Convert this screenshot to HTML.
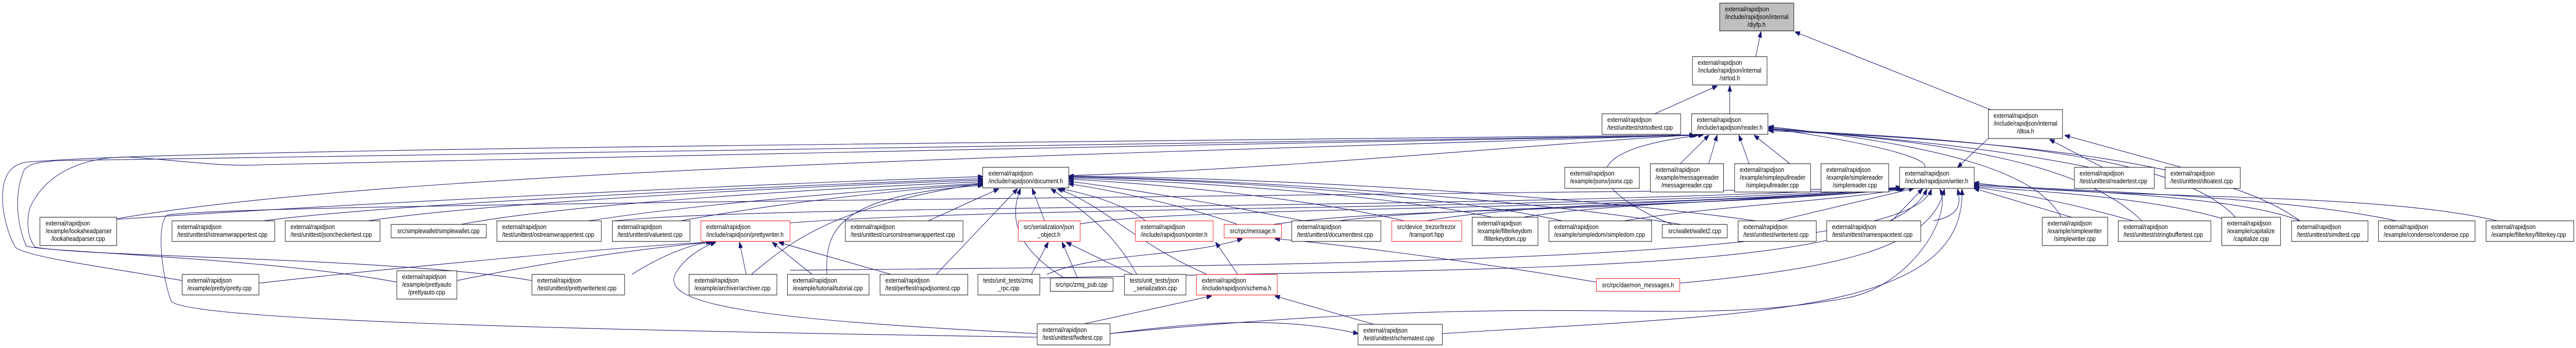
<!DOCTYPE html>
<html><head><meta charset="utf-8"><meta name="viewport" content="width=5869"><style>
html,body{margin:0;padding:0;background:#fff;overflow:hidden;width:100%;height:100%;}
svg{display:block;width:100vw;height:100vh;}
text{font-family:"Liberation Sans",Arial,sans-serif;font-size:12.8px;fill:#000;}
.e{fill:none;stroke:#191970;stroke-width:1.1;}
.n{fill:#fff;stroke:#000;stroke-width:1;}
.r{fill:#fff;stroke:#ff0000;stroke-width:1;}
</style></head><body>
<svg viewBox="0 0 5869 676" preserveAspectRatio="none" xmlns="http://www.w3.org/2000/svg">
<defs><marker id="a" markerWidth="12" markerHeight="9" refX="11" refY="4.5" orient="auto" markerUnits="userSpaceOnUse"><path d="M0,0 L12,4.5 L0,9 z" fill="#191970" stroke="#191970"/></marker></defs>
<g class="e" marker-end="url(#a)">
<path d="M4000,110 L4012,62"/>
<path d="M4535,213 L4090,62"/>
<path d="M3770,221 L3912,167"/>
<path d="M3941,221 L3941,167"/>
<path d="M3820,325 L3893,263"/>
<path d="M3893,318 L3912,263"/>
<path d="M3985,318 L3962,263"/>
<path d="M4078,318 L3997,263"/>
<path d="M4385,325 C4400,300 4150,262 4030,250"/>
<path d="M4760,325 C4500,280 4200,262 4030,248"/>
<path d="M4700,429 C4650,330 4400,280 4030,246"/>
<path d="M4880,429 C4750,320 4450,275 4030,250"/>
<path d="M5100,429 C4980,300 4500,270 4030,252"/>
<path d="M5240,429 C5050,310 4550,272 4030,254"/>
<path d="M2434,341 C2900,330 3500,280 3860,262"/>
<path d="M3810,436 C3700,400 3500,300 3880,262"/>
<path d="M266,425 C900,330 2500,300 3870,262"/>
<path d="M415,545 C250,520 60,500 35,480 C15,450 0,400 8,360 C15,330 35,318 60,315 C400,290 2000,280 3860,262"/>
<path d="M904,548 C600,500 100,490 60,478 C40,440 30,380 55,330 C70,316 90,315 130,312 C600,300 2000,290 3862,263"/>
<path d="M1212,545 C900,500 200,500 80,480 C60,460 60,420 70,400 C110,330 200,305 290,305 C400,310 500,325 600,320 C1400,300 3000,280 3865,263"/>
<path d="M266,426 C900,390 1800,355 2239,343"/>
<path d="M600,429 C900,395 1800,360 2239,347"/>
<path d="M838,429 C1100,395 1800,362 2239,350"/>
<path d="M1050,436 C1300,395 1900,365 2239,353"/>
<path d="M1340,429 C1600,395 2000,368 2239,356"/>
<path d="M1550,429 C1800,390 2100,365 2239,358"/>
<path d="M2115,429 L2275,367"/>
<path d="M2380,429 L2352,367"/>
<path d="M2610,429 C2560,395 2460,372 2415,367"/>
<path d="M2820,436 C2700,400 2550,372 2435,357"/>
<path d="M2970,429 C2800,400 2600,370 2435,352"/>
<path d="M3200,429 C3000,390 2700,360 2435,348"/>
<path d="M3400,422 C3200,385 2800,355 2435,346"/>
<path d="M3560,429 C3300,380 2800,350 2435,344"/>
<path d="M3830,436 C3500,390 2900,350 2435,343"/>
<path d="M4000,429 C3600,380 2900,345 2435,342"/>
<path d="M1712,533 C1800,470 1900,400 2239,356"/>
<path d="M1884,533 C1880,450 1900,380 2239,360"/>
<path d="M2133,533 L2318,367"/>
<path d="M2425,540 C2310,480 2300,420 2325,367"/>
<path d="M2590,533 C2530,440 2450,400 2395,367"/>
<path d="M2750,533 C2580,470 2520,400 2410,367"/>
<path d="M1800,433 C2300,400 3500,410 4330,366"/>
<path d="M2461,435 C2700,400 3700,410 4332,366"/>
<path d="M3050,429 C3300,400 4000,400 4334,366"/>
<path d="M3250,429 C3500,390 4100,390 4336,366"/>
<path d="M3470,422 C3700,390 4100,390 4338,366"/>
<path d="M3700,429 C3900,400 4200,390 4340,366"/>
<path d="M4050,429 L4360,366"/>
<path d="M4310,429 L4380,367"/>
<path d="M1400,429 C1800,395 3300,410 4330,364"/>
<path d="M2900,436 C3200,400 3600,420 4332,364"/>
<path d="M4720,422 L4498,366"/>
<path d="M4860,429 C4700,390 4560,370 4498,364"/>
<path d="M5080,429 C4900,380 4600,370 4498,362"/>
<path d="M5240,429 C5100,380 4700,370 4498,360"/>
<path d="M5460,429 C5200,380 4700,370 4498,358"/>
<path d="M5690,429 C5400,370 4800,390 4498,355"/>
<path d="M3827,550 C4200,520 4400,480 4430,368"/>
<path d="M2369,540 C3500,520 4300,530 4390,368"/>
<path d="M1800,525 C3000,515 4350,510 4400,368"/>
<path d="M3286,648 C4000,610 4480,610 4470,368"/>
<path d="M2529,648 C3600,560 3800,640 4200,580 C4350,560 4450,420 4420,368"/>
<path d="M4405,429 C4460,420 4470,400 4460,368"/>
<path d="M4530,269 L4460,325"/>
<path d="M4790,325 L4670,271"/>
<path d="M4970,325 L4705,263"/>
<path d="M590,550 C900,520 1400,480 1625,470"/>
<path d="M1041,545 C1300,500 1500,480 1620,470"/>
<path d="M1440,533 C1500,500 1580,470 1630,470"/>
<path d="M1700,533 L1685,471"/>
<path d="M1850,533 L1760,471"/>
<path d="M2030,533 L1775,471"/>
<path d="M2363,648 C1700,620 1500,590 1540,530 C1560,500 1600,480 1630,471"/>
<path d="M2350,533 L2388,471"/>
<path d="M2455,540 L2420,471"/>
<path d="M2580,533 L2430,471"/>
<path d="M2385,533 C2500,490 2700,500 2830,464"/>
<path d="M3637,548 C3300,500 3000,470 2905,464"/>
<path d="M2820,533 L2770,471"/>
<path d="M2470,629 L2760,575"/>
<path d="M3130,630 L2905,575"/>
<path d="M2529,648 C2700,630 2900,610 3094,648"/>
<path d="M2363,655 C1200,640 420,620 390,585 C370,540 355,440 380,418 C500,400 1800,390 4330,366"/>
</g>
<g>
<rect class="n" x="91" y="422" width="175" height="55"/><text x="104" y="438">external/rapidjson</text><text x="104" y="453">/example/lookaheadparser</text><text x="178" y="468" text-anchor="middle">/lookaheadparser.cpp</text>
<rect class="n" x="392" y="429" width="234" height="40"/><text x="404" y="445">external/rapidjson</text><text x="404" y="460">/test/unittest/istreamwrappertest.cpp</text>
<rect class="n" x="650" y="429" width="216" height="40"/><text x="662" y="445">external/rapidjson</text><text x="662" y="460">/test/unittest/jsoncheckertest.cpp</text>
<rect class="n" x="891" y="436" width="217" height="26"/><text x="999" y="453" text-anchor="middle">src/simplewallet/simplewallet.cpp</text>
<rect class="n" x="1132" y="429" width="238" height="40"/><text x="1144" y="445">external/rapidjson</text><text x="1144" y="460">/test/unittest/ostreamwrappertest.cpp</text>
<rect class="n" x="1395" y="429" width="177" height="40"/><text x="1407" y="445">external/rapidjson</text><text x="1407" y="460">/test/unittest/valuetest.cpp</text>
<rect class="n" x="415" y="533" width="175" height="40"/><text x="427" y="549">external/rapidjson</text><text x="427" y="564">/example/pretty/pretty.cpp</text>
<rect class="n" x="904" y="526" width="137" height="55"/><text x="916" y="542">external/rapidjson</text><text x="916" y="557">/example/prettyauto</text><text x="972" y="572" text-anchor="middle">/prettyauto.cpp</text>
<rect class="n" x="1212" y="533" width="211" height="40"/><text x="1224" y="549">external/rapidjson</text><text x="1224" y="564">/test/unittest/prettywritertest.cpp</text>
<rect class="n" x="2239" y="325" width="196" height="40"/><text x="2252" y="341">external/rapidjson</text><text x="2252" y="356">/include/rapidjson/document.h</text>
<rect class="r" x="1597" y="429" width="203" height="40"/><text x="1609" y="445">external/rapidjson</text><text x="1609" y="460">/include/rapidjson/prettywriter.h</text>
<rect class="n" x="1926" y="429" width="268" height="40"/><text x="1938" y="445">external/rapidjson</text><text x="1938" y="460">/test/unittest/cursorstreamwrappertest.cpp</text>
<rect class="r" x="2320" y="429" width="141" height="40"/><text x="2332" y="445">src/serialization/json</text><text x="2390" y="460" text-anchor="middle">_object.h</text>
<rect class="r" x="2587" y="429" width="177" height="40"/><text x="2599" y="445">external/rapidjson</text><text x="2599" y="460">/include/rapidjson/pointer.h</text>
<rect class="r" x="2789" y="436" width="131" height="26"/><text x="2854" y="453" text-anchor="middle">src/rpc/message.h</text>
<rect class="n" x="2943" y="429" width="203" height="40"/><text x="2955" y="445">external/rapidjson</text><text x="2955" y="460">/test/unittest/documenttest.cpp</text>
<rect class="n" x="1570" y="533" width="200" height="40"/><text x="1582" y="549">external/rapidjson</text><text x="1582" y="564">/example/archiver/archiver.cpp</text>
<rect class="n" x="1794" y="533" width="186" height="40"/><text x="1806" y="549">external/rapidjson</text><text x="1806" y="564">/example/tutorial/tutorial.cpp</text>
<rect class="n" x="2005" y="533" width="200" height="40"/><text x="2017" y="549">external/rapidjson</text><text x="2017" y="564">/test/perftest/rapidjsontest.cpp</text>
<rect class="n" x="2228" y="533" width="141" height="40"/><text x="2240" y="549">tests/unit_tests/zmq</text><text x="2298" y="564" text-anchor="middle">_rpc.cpp</text>
<rect class="n" x="2393" y="540" width="143" height="26"/><text x="2464" y="557" text-anchor="middle">src/rpc/zmq_pub.cpp</text>
<rect class="n" x="2562" y="533" width="140" height="40"/><text x="2574" y="549">tests/unit_tests/json</text><text x="2632" y="564" text-anchor="middle">_serialization.cpp</text>
<rect class="r" x="2726" y="533" width="184" height="40"/><text x="2738" y="549">external/rapidjson</text><text x="2738" y="564">/include/rapidjson/schema.h</text>
<rect class="n" x="2363" y="629" width="166" height="41"/><text x="2375" y="645">external/rapidjson</text><text x="2375" y="660">/test/unittest/fwdtest.cpp</text>
<rect x="3918" y="6" width="169" height="54" fill="#bfbfbf" stroke="#000"/><text x="3930" y="22">external/rapidjson</text><text x="3930" y="37">/include/rapidjson/internal</text><text x="4002" y="52" text-anchor="middle">/diyfp.h</text>
<rect class="n" x="3856" y="110" width="170" height="55"/><text x="3868" y="126">external/rapidjson</text><text x="3868" y="141">/include/rapidjson/internal</text><text x="3941" y="156" text-anchor="middle">/strtod.h</text>
<rect class="n" x="3650" y="221" width="179" height="40"/><text x="3662" y="237">external/rapidjson</text><text x="3662" y="252">/test/unittest/strtodtest.cpp</text>
<rect class="n" x="3854" y="221" width="174" height="40"/><text x="3866" y="237">external/rapidjson</text><text x="3866" y="252">/include/rapidjson/reader.h</text>
<rect class="n" x="3565" y="325" width="170" height="41"/><text x="3577" y="341">external/rapidjson</text><text x="3577" y="356">/example/jsonx/jsonx.cpp</text>
<rect class="n" x="3760" y="318" width="167" height="55"/><text x="3772" y="334">external/rapidjson</text><text x="3772" y="349">/example/messagereader</text><text x="3843" y="364" text-anchor="middle">/messagereader.cpp</text>
<rect class="n" x="3952" y="318" width="173" height="55"/><text x="3964" y="334">external/rapidjson</text><text x="3964" y="349">/example/simplepullreader</text><text x="4038" y="364" text-anchor="middle">/simplepullreader.cpp</text>
<rect class="n" x="4149" y="318" width="154" height="55"/><text x="4161" y="334">external/rapidjson</text><text x="4161" y="349">/example/simplereader</text><text x="4226" y="364" text-anchor="middle">/simplereader.cpp</text>
<rect class="n" x="4328" y="325" width="170" height="41"/><text x="4340" y="341">external/rapidjson</text><text x="4340" y="356">/include/rapidjson/writer.h</text>
<rect class="r" x="3171" y="429" width="159" height="40"/><text x="3183" y="445">src/device_trezor/trezor</text><text x="3250" y="460" text-anchor="middle">/transport.hpp</text>
<rect class="n" x="3354" y="422" width="150" height="55"/><text x="3366" y="438">external/rapidjson</text><text x="3366" y="453">/example/filterkeydom</text><text x="3429" y="468" text-anchor="middle">/filterkeydom.cpp</text>
<rect class="n" x="3529" y="429" width="234" height="40"/><text x="3541" y="445">external/rapidjson</text><text x="3541" y="460">/example/simpledom/simpledom.cpp</text>
<rect class="n" x="3787" y="436" width="148" height="26"/><text x="3861" y="453" text-anchor="middle">src/wallet/wallet2.cpp</text>
<rect class="n" x="3960" y="429" width="178" height="40"/><text x="3972" y="445">external/rapidjson</text><text x="3972" y="460">/test/unittest/writertest.cpp</text>
<rect class="n" x="4162" y="429" width="214" height="40"/><text x="4174" y="445">external/rapidjson</text><text x="4174" y="460">/test/unittest/namespacetest.cpp</text>
<rect class="r" x="3637" y="541" width="190" height="25"/><text x="3732" y="558" text-anchor="middle">src/rpc/daemon_messages.h</text>
<rect class="n" x="3094" y="630" width="192" height="40"/><text x="3106" y="646">external/rapidjson</text><text x="3106" y="661">/test/unittest/schematest.cpp</text>
<rect class="n" x="4530" y="213" width="169" height="56"/><text x="4542" y="229">external/rapidjson</text><text x="4542" y="244">/include/rapidjson/internal</text><text x="4615" y="259" text-anchor="middle">/dtoa.h</text>
<rect class="n" x="4726" y="325" width="182" height="41"/><text x="4738" y="341">external/rapidjson</text><text x="4738" y="356">/test/unittest/readertest.cpp</text>
<rect class="n" x="4933" y="325" width="171" height="41"/><text x="4945" y="341">external/rapidjson</text><text x="4945" y="356">/test/unittest/dtoatest.cpp</text>
<rect class="n" x="4653" y="422" width="149" height="55"/><text x="4665" y="438">external/rapidjson</text><text x="4665" y="453">/example/simplewriter</text><text x="4727" y="468" text-anchor="middle">/simplewriter.cpp</text>
<rect class="n" x="4826" y="429" width="211" height="40"/><text x="4838" y="445">external/rapidjson</text><text x="4838" y="460">/test/unittest/stringbuffertest.cpp</text>
<rect class="n" x="5062" y="422" width="134" height="55"/><text x="5074" y="438">external/rapidjson</text><text x="5074" y="453">/example/capitalize</text><text x="5129" y="468" text-anchor="middle">/capitalize.cpp</text>
<rect class="n" x="5221" y="429" width="174" height="40"/><text x="5233" y="445">external/rapidjson</text><text x="5233" y="460">/test/unittest/simdtest.cpp</text>
<rect class="n" x="5419" y="429" width="220" height="40"/><text x="5431" y="445">external/rapidjson</text><text x="5431" y="460">/example/condense/condense.cpp</text>
<rect class="n" x="5664" y="429" width="200" height="40"/><text x="5676" y="445">external/rapidjson</text><text x="5676" y="460">/example/filterkey/filterkey.cpp</text>
</g>
</svg>
</body></html>
